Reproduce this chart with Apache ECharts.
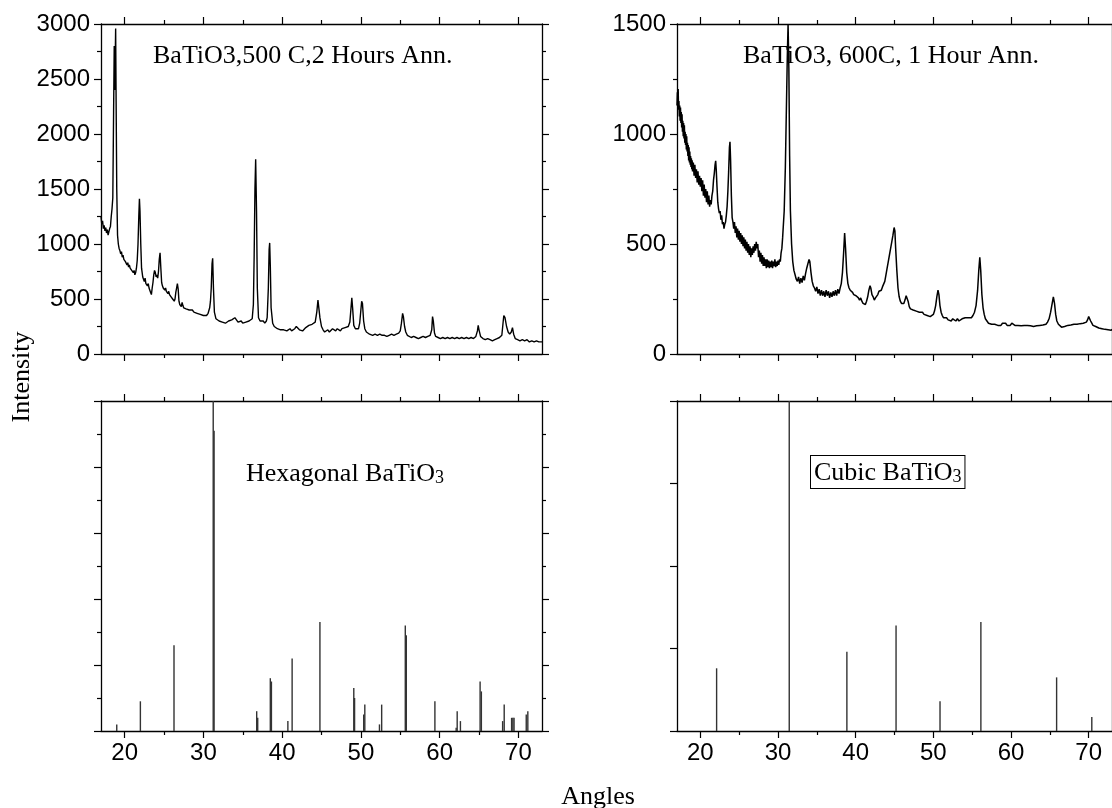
<!DOCTYPE html>
<html lang="en">
<head>
<meta charset="UTF-8">
<title>BaTiO3 XRD</title>
<style>html,body{margin:0;padding:0;background:#fff}</style>
</head>
<body>
<div id="main" style="width:1112px;height:808px"></div>
<script src="https://cdn.jsdelivr.net/npm/echarts@6/dist/echarts.min.js"></script>
<script type="text/javascript">
// measured scan, 500 C / 2 h anneal  [2theta, counts]
var scan500 = [
  [17.0,1250],[17.1,1180],[17.2,1210],[17.3,1140],[17.4,1170],[17.5,1120],[17.6,1150],[17.7,1100],[17.8,1130],[17.9,1080],
  [18.0,1110],[18.1,1140],[18.2,1160],[18.3,1250],[18.4,1320],[18.5,1420],[18.6,2200],[18.68,2800],[18.75,2400],[18.8,2650],
  [18.86,2960],[18.92,2300],[19.0,1500],[19.1,1080],[19.2,1000],[19.3,960],[19.4,940],[19.5,910],[19.6,930],[19.7,880],
  [19.8,900],[19.9,860],[20.0,870],[20.1,840],[20.2,850],[20.3,810],[20.4,830],[20.5,790],[20.6,810],[20.7,780],
  [20.8,790],[20.9,760],[21.0,770],[21.1,740],[21.2,760],[21.3,720],[21.4,740],[21.5,780],[21.6,850],[21.7,1000],
  [21.8,1250],[21.88,1410],[21.95,1300],[22.05,1000],[22.15,780],[22.3,700],[22.4,680],[22.5,660],[22.6,690],[22.7,640],
  [22.8,650],[22.9,620],[23.0,640],[23.1,600],[23.2,580],[23.3,560],[23.4,540],[23.5,600],[23.6,650],[23.7,720],
  [23.8,760],[23.9,740],[24.0,700],[24.1,720],[24.2,690],[24.3,750],[24.4,860],[24.5,920],[24.6,780],[24.7,650],
  [24.8,620],[24.9,600],[25.0,610],[25.1,580],[25.2,600],[25.3,570],[25.4,580],[25.5,550],[25.6,570],[25.7,540],
  [25.8,530],[25.9,520],[26.0,510],[26.1,500],[26.2,490],[26.3,480],[26.4,500],[26.5,560],[26.6,600],[26.7,640],
  [26.8,590],[26.9,480],[27.0,450],[27.1,460],[27.2,430],[27.3,470],[27.4,440],[27.5,420],[27.6,430],[27.8,410],
  [28.0,420],[28.2,400],[28.4,390],[28.6,400],[28.8,380],[29.0,390],[29.2,370],[29.4,380],[29.6,360],[29.8,370],
  [30.0,350],[30.2,360],[30.4,350],[30.6,370],[30.8,420],[30.9,480],[31.0,600],[31.1,820],[31.18,870],[31.28,600],
  [31.4,380],[31.6,320],[31.8,310],[32.0,300],[32.2,310],[32.4,290],[32.6,300],[32.8,280],[33.0,290],[33.2,300],
  [33.4,290],[33.6,310],[33.8,320],[34.0,330],[34.2,310],[34.4,290],[34.6,280],[34.8,300],[35.0,280],[35.2,270],
  [35.4,290],[35.6,280],[35.8,300],[36.0,290],[36.2,320],[36.35,450],[36.45,900],[36.55,1500],[36.64,1770],[36.75,1300],
  [36.85,600],[37.0,330],[37.2,300],[37.4,290],[37.6,300],[37.8,280],[38.0,300],[38.1,330],[38.25,600],[38.35,950],
  [38.42,1010],[38.5,800],[38.6,420],[38.8,280],[39.0,250],[39.2,240],[39.4,230],[39.6,240],[39.8,220],[40.0,230],
  [40.2,220],[40.4,230],[40.6,210],[40.8,220],[41.0,230],[41.2,210],[41.4,220],[41.6,230],[41.8,250],[42.0,240],
  [42.2,220],[42.4,230],[42.6,210],[42.8,220],[43.0,240],[43.2,230],[43.4,260],[43.6,250],[43.8,270],[44.0,260],
  [44.2,290],[44.4,380],[44.55,490],[44.65,480],[44.8,330],[45.0,250],[45.2,220],[45.4,200],[45.6,210],[45.8,220],
  [46.0,200],[46.2,210],[46.4,230],[46.6,220],[46.8,210],[47.0,230],[47.2,220],[47.4,210],[47.6,230],[47.8,220],
  [48.0,240],[48.2,230],[48.4,250],[48.6,290],[48.75,420],[48.85,510],[48.95,420],[49.1,260],[49.3,230],[49.5,220],
  [49.7,230],[49.85,280],[50.0,400],[50.1,480],[50.2,460],[50.35,300],[50.5,230],[50.7,200],[50.9,190],[51.1,180],
  [51.3,190],[51.5,170],[51.8,180],[52.1,170],[52.4,180],[52.7,170],[53.0,170],[53.3,160],[53.6,170],[53.9,180],
  [54.2,170],[54.5,180],[54.8,190],[55.0,210],[55.15,280],[55.3,370],[55.4,340],[55.55,250],[55.7,200],[55.9,170],
  [56.1,160],[56.4,150],[56.7,160],[57.0,150],[57.3,140],[57.6,150],[57.9,160],[58.2,150],[58.5,160],[58.8,170],
  [59.0,220],[59.1,340],[59.2,300],[59.35,190],[59.5,160],[59.8,150],[60.1,140],[60.4,150],[60.7,140],[61.0,150],
  [61.3,140],[61.6,150],[61.9,140],[62.2,150],[62.5,140],[62.8,150],[63.1,140],[63.4,150],[63.7,140],[64.0,150],
  [64.3,140],[64.6,160],[64.8,210],[64.9,260],[65.0,220],[65.2,160],[65.5,140],[65.8,130],[66.1,140],[66.4,130],
  [66.7,120],[67.0,130],[67.3,140],[67.6,150],[67.9,170],[68.05,280],[68.15,350],[68.3,330],[68.5,250],[68.7,200],
  [68.9,180],[69.1,200],[69.25,240],[69.4,180],[69.6,140],[69.9,130],[70.2,120],[70.5,130],[70.8,120],[71.1,130],
  [71.4,110],[71.7,120],[72.0,110],[72.3,120],[72.6,110],[73.0,110]
];

// measured scan, 600 C / 1 h anneal
var scan600 = [
  [17.0,1130],[17.05,1190],[17.1,1140],[17.15,1205],[17.2,1110],[17.25,1150],[17.3,1080],[17.35,1130],[17.4,1060],[17.45,1120],
  [17.5,1050],[17.55,1100],[17.6,1030],[17.65,1090],[17.7,1010],[17.75,1060],[17.8,990],[17.85,1050],[17.9,980],[17.95,1040],
  [18.0,960],[18.05,1010],[18.1,950],[18.15,1000],[18.2,930],[18.25,990],[18.3,920],[18.35,960],[18.4,900],[18.45,950],
  [18.5,880],[18.55,940],[18.6,870],[18.65,920],[18.7,860],[18.75,900],[18.8,850],[18.85,890],[18.9,840],[18.95,880],
  [19.0,830],[19.1,870],[19.2,810],[19.3,860],[19.4,800],[19.5,840],[19.6,780],[19.7,830],[19.8,770],[19.9,810],
  [20.0,760],[20.1,800],[20.2,740],[20.3,790],[20.4,720],[20.5,770],[20.6,710],[20.7,750],[20.8,690],[20.9,740],
  [21.0,680],[21.1,720],[21.2,670],[21.3,700],[21.4,680],[21.5,720],[21.6,740],[21.7,790],[21.8,820],[21.9,860],
  [21.98,878],[22.05,840],[22.15,760],[22.25,690],[22.35,660],[22.45,640],[22.55,650],[22.65,610],[22.75,630],[22.85,590],
  [22.95,600],[23.05,570],[23.15,590],[23.25,600],[23.35,630],[23.45,670],[23.55,740],[23.65,830],[23.75,940],[23.82,965],
  [23.9,880],[24.0,720],[24.1,620],[24.2,600],[24.3,570],[24.4,600],[24.5,550],[24.6,580],[24.7,530],[24.8,570],
  [24.9,520],[25.0,560],[25.1,510],[25.2,550],[25.3,500],[25.4,540],[25.5,490],[25.6,530],[25.7,480],[25.8,520],
  [25.9,470],[26.0,510],[26.1,460],[26.2,500],[26.3,450],[26.4,490],[26.5,440],[26.6,480],[26.7,450],[26.8,490],
  [26.9,460],[27.0,500],[27.1,470],[27.2,510],[27.3,480],[27.4,500],[27.5,440],[27.6,470],[27.7,420],[27.8,460],
  [27.9,410],[28.0,450],[28.1,400],[28.2,440],[28.3,400],[28.4,430],[28.5,390],[28.6,430],[28.7,395],[28.8,425],
  [28.9,390],[29.0,420],[29.1,395],[29.2,425],[29.3,390],[29.4,420],[29.5,400],[29.6,430],[29.7,395],[29.8,420],
  [29.9,400],[30.0,425],[30.1,405],[30.2,430],[30.3,420],[30.4,460],[30.5,480],[30.6,530],[30.8,650],
  [30.95,850],[31.1,1150],[31.2,1350],[31.3,1500],[31.4,1300],[31.5,900],[31.6,650],[31.75,500],[31.9,420],[32.05,380],
  [32.2,360],[32.35,340],[32.5,330],[32.65,350],[32.8,320],[32.95,345],[33.1,325],[33.25,355],[33.4,335],[33.55,365],
  [33.7,390],[33.85,410],[34.0,430],[34.1,420],[34.25,370],[34.4,330],[34.55,310],[34.7,300],[34.85,285],[35.0,305],
  [35.15,275],[35.3,295],[35.45,265],[35.6,290],[35.75,265],[35.9,285],[36.05,260],[36.2,290],[36.35,265],[36.5,285],
  [36.65,255],[36.8,280],[36.95,260],[37.1,285],[37.25,265],[37.4,290],[37.55,265],[37.7,295],[37.85,275],[38.0,300],
  [38.15,320],[38.3,370],[38.45,460],[38.58,550],[38.7,480],[38.85,370],[39.0,320],[39.15,300],[39.3,290],[39.45,285],
  [39.6,280],[39.75,270],[39.9,275],[40.05,265],[40.2,260],[40.35,255],[40.5,245],[40.65,255],[40.8,240],[40.95,230],
  [41.1,235],[41.25,225],[41.4,240],[41.55,260],[41.7,290],[41.85,310],[41.95,300],[42.1,270],[42.25,260],[42.4,245],
  [42.55,255],[42.7,260],[42.85,270],[43.0,285],[43.15,280],[43.3,290],[43.45,305],[43.6,300],[43.75,330],[43.9,360],
  [44.05,390],[44.2,420],[44.35,450],[44.5,480],[44.65,510],[44.8,540],[44.95,575],[45.05,560],[45.15,480],[45.3,380],
  [45.45,300],[45.6,260],[45.75,240],[45.9,230],[46.05,225],[46.2,230],[46.35,245],[46.5,265],[46.62,270],[46.75,240],
  [46.9,215],[47.05,205],[47.2,210],[47.4,200],[47.6,205],[47.8,195],[48.0,200],[48.2,190],[48.4,185],[48.6,190],
  [48.8,180],[49.0,185],[49.2,175],[49.4,180],[49.6,170],[49.8,175],[50.0,180],[50.15,195],[50.3,220],[50.45,260],
  [50.6,290],[50.72,270],[50.85,220],[51.0,190],[51.15,175],[51.3,165],[51.5,160],[51.7,165],[51.9,155],[52.1,160],
  [52.3,150],[52.5,160],[52.7,155],[52.9,150],[53.1,160],[53.3,150],[53.5,155],[53.7,160],[53.9,155],[54.1,165],
  [54.3,160],[54.5,165],[54.7,170],[54.9,165],[55.1,175],[55.3,190],[55.5,220],[55.7,290],[55.85,380],[55.98,440],
  [56.1,380],[56.25,270],[56.4,210],[56.55,180],[56.7,160],[56.9,150],[57.1,140],[57.3,145],[57.5,135],[57.7,140],
  [57.9,135],[58.1,140],[58.3,130],[58.5,135],[58.7,130],[58.9,140],[59.1,135],[59.3,140],[59.5,130],[59.7,135],
  [59.9,130],[60.1,140],[60.3,135],[60.5,130],[60.7,138],[60.9,130],[61.1,135],[61.3,128],[61.5,135],[61.7,130],
  [61.9,138],[62.1,130],[62.3,135],[62.5,128],[62.7,132],[62.9,125],[63.1,132],[63.3,128],[63.5,135],[63.7,130],
  [63.9,138],[64.1,132],[64.3,140],[64.5,135],[64.7,145],[64.9,160],[65.1,190],[65.3,230],[65.45,260],[65.6,230],
  [65.75,180],[65.9,150],[66.1,135],[66.3,128],[66.5,122],[66.7,118],[66.9,125],[67.1,120],[67.3,130],[67.5,125],
  [67.7,132],[67.9,128],[68.1,135],[68.3,130],[68.5,135],[68.7,132],[68.9,138],[69.1,135],[69.3,140],[69.5,138],
  [69.7,145],[69.85,155],[70.0,170],[70.1,165],[70.25,150],[70.4,140],[70.55,130],[70.7,135],[70.9,125],[71.1,130],
  [71.3,118],[71.5,125],[71.7,115],[71.9,122],[72.1,112],[72.3,118],[72.5,110],[72.7,115],[72.9,108],[73.0,112]
];

// reference stick patterns (relative intensity)
var hexAngles = [19.0, 22.0, 26.27, 31.25, 31.36, 36.77, 36.9, 38.5, 38.64, 40.73, 41.27, 44.8, 49.1, 49.2, 50.36, 50.5,
                 52.36, 52.64, 55.64, 55.77, 59.4, 62.1, 62.23, 62.64, 65.14, 65.3, 68.0, 68.2, 69.14, 69.3, 69.45, 71.0, 71.2];
var hexHeights = [0.2, 0.9, 2.6, 10, 9.1, 0.6, 0.4, 1.6, 1.5, 0.3, 2.2, 3.3, 1.3, 1.0, 0.5, 0.8,
                  0.2, 0.8, 3.2, 2.9, 0.9, 0.1, 0.6, 0.3, 1.5, 1.2, 0.3, 0.8, 0.4, 0.4, 0.4, 0.5, 0.6];
var cubicAngles = [22.1, 31.45, 38.87, 45.2, 50.86, 56.12, 65.87, 70.4];
var cubicHeights = [0.76, 4, 0.96, 1.28, 0.36, 1.32, 0.65, 0.17];

var majorX = [20, 30, 40, 50, 60, 70];
var minorX = [25, 35, 45, 55, 65];

function zipSticks(xs, ys) {
    return xs.map(function (x, i) { return [x, ys[i]]; });
}

var chart = echarts.init(document.getElementById('main'));

var grids = [
    { left: 101, top: 24, width: 441, height: 330 },
    { left: 677, top: 24, width: 441, height: 330 },
    { left: 101, top: 401, width: 441, height: 330 },
    { left: 677, top: 401, width: 441, height: 330 }
];
// y settings per panel
var yCfg = [
    { max: 3000, interval: 500, minor: true, labels: true },
    { max: 1500, interval: 500, minor: true, labels: true },
    { max: 10, interval: 2, minor: true, labels: false },
    { max: 4, interval: 1, minor: false, labels: false }
];

var lineCol = '#000';
var tickFont = 'Liberation Sans';
var xAxes = [];
var yAxes = [];

grids.forEach(function (g, gi) {
    var showLabels = gi >= 2;
    ['bottom', 'top'].forEach(function (pos) {
        // major ticks
        xAxes.push({
            gridIndex: gi, type: 'value', position: pos, min: 17, max: 73,
            axisLine: { onZero: false, lineStyle: { color: lineCol, width: 1.3 } },
            axisTick: { inside: false, length: 7, customValues: majorX, lineStyle: { color: lineCol, width: 1.2 } },
            axisLabel: {
                show: showLabels && pos === 'bottom', customValues: majorX, margin: 10,
                color: '#000', fontFamily: tickFont, fontSize: 24
            },
            splitLine: { show: false }
        });
        // minor ticks
        xAxes.push({
            gridIndex: gi, type: 'value', position: pos, min: 17, max: 73,
            axisLine: { show: false, onZero: false },
            axisTick: { inside: false, length: 4, customValues: minorX, lineStyle: { color: lineCol, width: 1.2 } },
            axisLabel: { show: false },
            splitLine: { show: false }
        });
    });
    var c = yCfg[gi];
    ['left', 'right'].forEach(function (pos) {
        yAxes.push({
            gridIndex: gi, type: 'value', position: pos, min: 0, max: c.max, interval: c.interval,
            axisLine: { show: true, onZero: false, lineStyle: { color: lineCol, width: 1.3 } },
            axisTick: { show: true, inside: false, length: 7, lineStyle: { color: lineCol, width: 1.2 } },
            minorTick: { show: c.minor, splitNumber: 2, length: 4, lineStyle: { color: lineCol, width: 1.2 } },
            axisLabel: {
                show: c.labels && pos === 'left', margin: 11,
                color: '#000', fontFamily: tickFont, fontSize: 24,
                formatter: function (v) { return String(v); }
            },
            splitLine: { show: false }
        });
    });
});

var series = [
    {
        type: 'line', xAxisIndex: 0, yAxisIndex: 0, data: scan500, showSymbol: false,
        lineStyle: { color: '#000', width: 1.4 }, animation: false
    },
    {
        type: 'line', xAxisIndex: 4, yAxisIndex: 2, data: scan600, showSymbol: false,
        lineStyle: { color: '#000', width: 1.5 }, animation: false
    },
    {
        type: 'bar', xAxisIndex: 8, yAxisIndex: 4, data: zipSticks(hexAngles, hexHeights),
        barWidth: 1.4, itemStyle: { color: '#333' }, animation: false
    },
    {
        type: 'bar', xAxisIndex: 12, yAxisIndex: 6, data: zipSticks(cubicAngles, cubicHeights),
        barWidth: 1.4, itemStyle: { color: '#333' }, animation: false
    }
];

var serif = '"Liberation Serif", "Times New Roman", serif';
var textSize = 26;

var option = {
    backgroundColor: '#fff',
    animation: false,
    grid: grids,
    xAxis: xAxes,
    yAxis: yAxes,
    series: series,
    graphic: [
        {
            type: 'text', x: 22, y: 377, rotation: Math.PI / 2,
            style: { text: 'Intensity', fontFamily: serif, fontSize: textSize, fill: '#000', align: 'center', verticalAlign: 'middle' }
        },
        {
            type: 'text', x: 598, y: 797,
            style: { text: 'Angles', fontFamily: serif, fontSize: textSize, fill: '#000', align: 'center', verticalAlign: 'middle' }
        },
        {
            type: 'text', x: 153, y: 56,
            style: { text: 'BaTiO3,500 C,2 Hours Ann.', fontFamily: serif, fontSize: textSize, fill: '#000', align: 'left', verticalAlign: 'middle' }
        },
        {
            type: 'text', x: 743, y: 56,
            style: { text: 'BaTiO3, 600C, 1 Hour Ann.', fontFamily: serif, fontSize: textSize, fill: '#000', align: 'left', verticalAlign: 'middle' }
        },
        {
            type: 'text', x: 246, y: 474,
            style: {
                text: '{a|Hexagonal BaTiO}{b|3}', align: 'left', verticalAlign: 'middle',
                rich: {
                    a: { fontFamily: serif, fontSize: textSize, fill: '#000', verticalAlign: 'bottom' },
                    b: { fontFamily: serif, fontSize: 18, fill: '#000', verticalAlign: 'bottom' }
                }
            }
        },
        {
            type: 'text', x: 811, y: 472,
            style: {
                text: '{a|Cubic BaTiO}{b|3}', align: 'left', verticalAlign: 'middle',
                borderColor: '#000', borderWidth: 1, padding: [4, 3, 2, 3], backgroundColor: '#fff',
                rich: {
                    a: { fontFamily: serif, fontSize: textSize, fill: '#000', verticalAlign: 'bottom' },
                    b: { fontFamily: serif, fontSize: 18, fill: '#000', verticalAlign: 'bottom' }
                }
            }
        }
    ]
};
chart.setOption(option);
</script>
</body>
</html>
